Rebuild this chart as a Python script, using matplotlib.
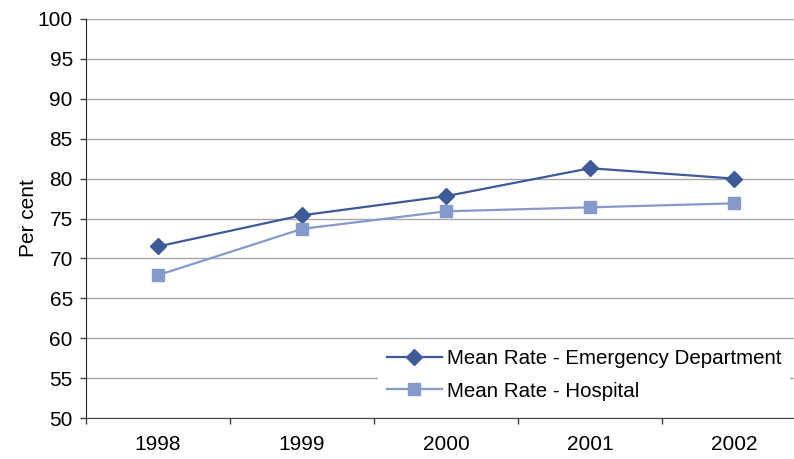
import numpy as np
import matplotlib.pyplot as plt

plt.rcParams['font.family'] = ['Liberation Sans', 'DejaVu Sans']

years = ['1998', '1999', '2000', '2001', '2002']
ed_rate = [71.5, 75.4, 77.8, 81.3, 80.0]
hosp_rate = [67.9, 73.7, 75.9, 76.4, 76.9]

dark_blue = '#3F5A98'
light_blue = '#8599CB'

fig = plt.figure(figsize=(7.94, 4.59), dpi=100)
# axes goes a bit past the right edge, as in the original crop
ax = fig.add_axes([86 / 794, 1 - 418 / 459, 720 / 794, 399 / 459])

x = np.arange(len(years))
ax.plot(x, ed_rate, color=dark_blue, lw=1.6, marker='D', ms=8,
        label='Mean Rate - Emergency Department', zorder=3)
ax.plot(x, hosp_rate, color=light_blue, lw=1.6, marker='s', ms=8,
        label='Mean Rate - Hospital', zorder=3)

ax.set_xlim(-0.5, 4.5)
ax.set_ylim(50, 100)
ax.set_yticks(np.arange(50, 101, 5))
ax.yaxis.grid(True, color='#A6A6A6', lw=1)
ax.set_axisbelow(True)

# category labels in the middle, ticks on the boundaries
ax.set_xticks(x)
ax.set_xticklabels(years)
ax.set_xticks(np.arange(-0.5, 5.0, 1), minor=True)
ax.tick_params(axis='x', which='major', length=0, pad=12, labelsize=15)
ax.tick_params(axis='x', which='minor', length=4.5, width=1, color='#404040', direction='out')
ax.tick_params(axis='y', length=4.5, width=1, color='#404040', labelsize=15, pad=5)

for side in ['top', 'right']:
    ax.spines[side].set_visible(False)
ax.spines['left'].set_color('#202020')
ax.spines['bottom'].set_color('#404040')

ax.set_ylabel('Per cent', fontsize=15, labelpad=0)

leg = fig.legend(loc='upper left', bbox_to_anchor=(378 / 794, 1 - 340 / 459),
                 fontsize=14.8, frameon=True, facecolor='white', edgecolor='white',
                 framealpha=1, fancybox=False, handlelength=2.64, handletextpad=0.25,
                 labelspacing=0.65, borderpad=0.45, borderaxespad=0)
leg.get_frame().set_linewidth(0)

fig.savefig('out.png', dpi=100)
